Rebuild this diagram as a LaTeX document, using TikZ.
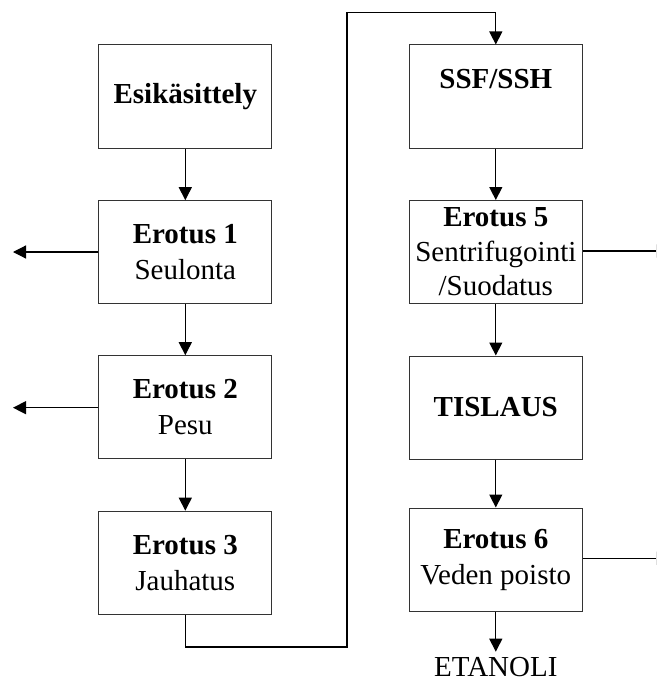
\documentclass[tikz,border=0pt]{standalone}
\usepackage{fontspec}
\setmainfont{Liberation Serif}
\usetikzlibrary{arrows.meta}
\begin{document}
\begin{tikzpicture}[x=1pt,y=-1pt,
  procbox/.style={draw=black!80, line width=1pt, minimum width=173pt, minimum height=103pt,
    inner sep=0pt, align=center, font=\fontsize{29}{36}\selectfont},
  conn/.style={line width=1.2pt, black},
  arr/.style={conn, -{Triangle[length=13pt,width=13pt]}}]
\useasboundingbox (0,0) rectangle (656,682);
\clip (0,0) rectangle (656,682);
% left column
\node[procbox] (esi) at (185.3,96.5) {\textbf{Esikäsittely}};
\node[procbox] (e1) at (185.3,252.2) {\textbf{Erotus 1}\\Seulonta};
\node[procbox] (e2) at (185.3,407.2) {\textbf{Erotus 2}\\Pesu};
\node[procbox] (e3) at (185.3,562.7) {\textbf{Erotus 3}\\Jauhatus};
% right column
\node[procbox] (ssf) at (495.8,96.5) {\textbf{SSF/SSH}\\\mbox{}};
\node[procbox, font=\fontsize{29}{34.5}\selectfont] (e5) at (495.8,252) {\textbf{Erotus 5}\\Sentrifugointi\\/Suodatus};
\node[procbox] (tis) at (495.8,407.5) {\textbf{TISLAUS}};
\node[procbox] (e6) at (495.8,559.5) {\textbf{Erotus 6}\\Veden poisto};
\node[font=\fontsize{29}{36}\selectfont, inner sep=0pt, anchor=base] (eta) at (495.8,676.5) {ETANOLI};
% coordinates
\coordinate (l1) at (13,252);
\coordinate (l2) at (13,407.7);
\coordinate (r1) at (669,251);
\coordinate (r2) at (669,558.3);
\coordinate (etatip) at (495.8,651.7);
\coordinate (loopA) at (185.3,647);
\coordinate (loopB) at (347,647);
\coordinate (loopC) at (347,12.3);
\coordinate (loopD) at (495.8,12.3);
% connectors
\draw[arr] (esi.south) -- (e1.north);
\draw[arr] (e1.south) -- (e2.north);
\draw[arr] (e2.south) -- (e3.north);
\draw[arr] (ssf.south) -- (e5.north);
\draw[arr] (e5.south) -- (tis.north);
\draw[arr] (tis.south) -- (e6.north);
\draw[arr] (e6.south) -- (etatip);
\draw[arr] (e1.west |- l1) -- (l1);
\draw[arr] (e2.west |- l2) -- (l2);
\draw[arr] (e5.east |- r1) -- (r1);
\draw[arr] (e6.east |- r2) -- (r2);
\draw[arr] (e3.south) -- (loopA) -- (loopB) -- (loopC) -- (loopD) -- (ssf.north);
\end{tikzpicture}
\end{document}
